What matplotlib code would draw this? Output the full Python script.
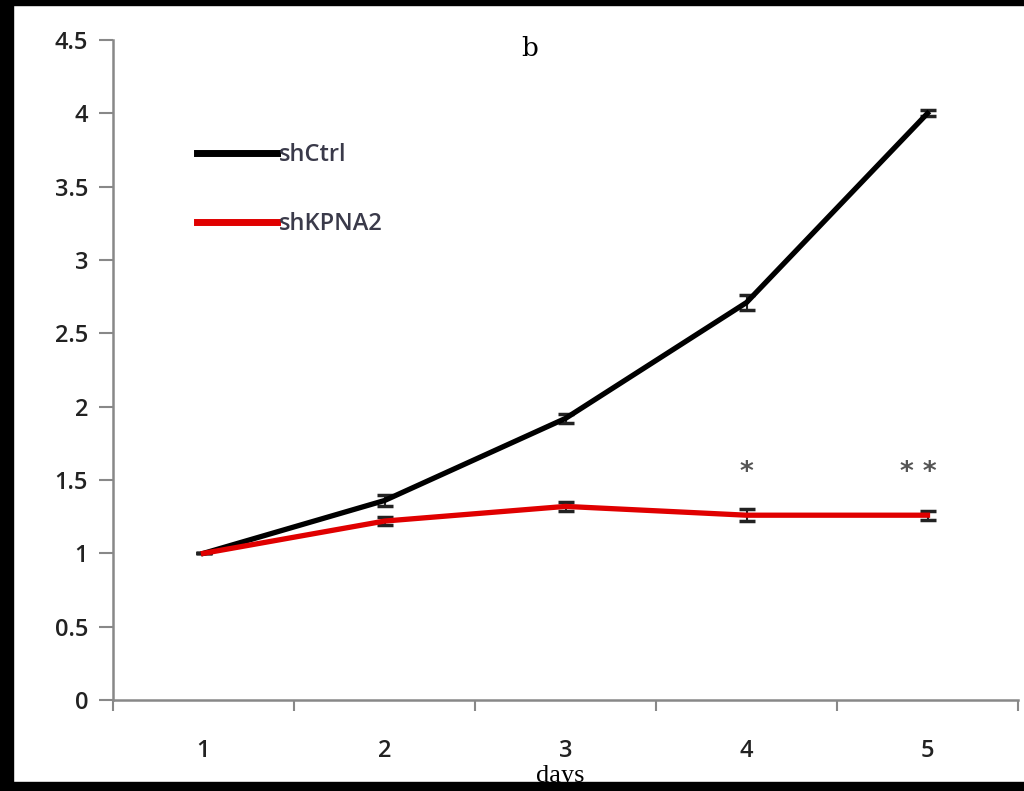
import matplotlib.pyplot as plt
from matplotlib.patches import Rectangle
from matplotlib.lines import Line2D

days = [1, 2, 3, 4, 5]
shctrl = [1.0, 1.36, 1.92, 2.71, 4.0]
shctrl_err = [0.0, 0.04, 0.03, 0.05, 0.02]
shkpna2 = [1.0, 1.22, 1.32, 1.26, 1.26]
shkpna2_err = [0.0, 0.03, 0.03, 0.04, 0.03]
marks = {4: "*", 4.95: "* *"}
yticks = [0, 0.5, 1, 1.5, 2, 2.5, 3, 3.5, 4, 4.5]

fig = plt.figure(figsize=(10.24, 7.91), dpi=100)
ax = fig.add_axes([113 / 1024, 1 - 700 / 791, 905 / 1024, 660 / 791])

ax.errorbar(days, shctrl, yerr=shctrl_err, color="black", lw=3.8,
            ecolor="#222222", elinewidth=1.5, capsize=6, capthick=2.5, zorder=3)
ax.errorbar(days, shkpna2, yerr=shkpna2_err, color="#e00000", lw=3.8,
            ecolor="#222222", elinewidth=1.5, capsize=6, capthick=2.5, zorder=4)

for d, s in marks.items():
    ax.text(d, 1.55, s, ha="center", va="center", fontsize=19, fontweight="bold", color="#555555")

ax.set_xlim(0.5, 5.5)
ax.set_ylim(0, 4.5)
ax.set_yticks(yticks)
ax.set_yticklabels([f"{v:g}" for v in yticks], fontsize=17, family="Open Sans",
                   fontweight="semibold", color="#222222")
ax.set_xticks(days)
ax.set_xticklabels([str(d) for d in days], fontsize=17, family="Open Sans",
                   fontweight="semibold", color="#222222")
ax.set_xticks([0.5, 1.5, 2.5, 3.5, 4.5, 5.5], minor=True)
ax.tick_params(axis="x", which="major", length=0, pad=28)
ax.tick_params(axis="x", which="minor", length=8, width=1.5, color="#888888", direction="out")
ax.tick_params(axis="y", length=10, width=1.5, color="#888888", direction="out", pad=8)

for side in ["top", "right"]:
    ax.spines[side].set_visible(False)
for side in ["left", "bottom"]:
    ax.spines[side].set_color("#888888")
    ax.spines[side].set_linewidth(1.8)

ax.text(2.80, 4.44, "b", ha="center", va="center", fontsize=19, family="DejaVu Serif")

handles = [Line2D([], [], color="black", lw=5), Line2D([], [], color="#e00000", lw=5)]
leg = ax.legend(handles, ["shCtrl", "shKPNA2"], loc="upper left", bbox_to_anchor=(0.082, 0.858),
                frameon=False, handlelength=3.4, handletextpad=0.1, labelspacing=1.9,
                borderaxespad=0, prop={"family": "Open Sans", "size": 17, "weight": "semibold"})
for t in leg.get_texts():
    t.set_color("#3a3a4a")

fig.text(560 / 1024, 1 - 776 / 791, "days", ha="center", va="center",
         fontsize=19, family="Liberation Serif")

# black frame around the picture
for x0, y0, w, h in [(0, 0, 13, 791), (0, 0, 1024, 9), (0, 786, 1024, 5)]:
    fig.add_artist(Rectangle((x0 / 1024, y0 / 791), w / 1024, h / 791,
                             transform=fig.transFigure, color="black", zorder=10))

fig.savefig("out.png", dpi=100)
